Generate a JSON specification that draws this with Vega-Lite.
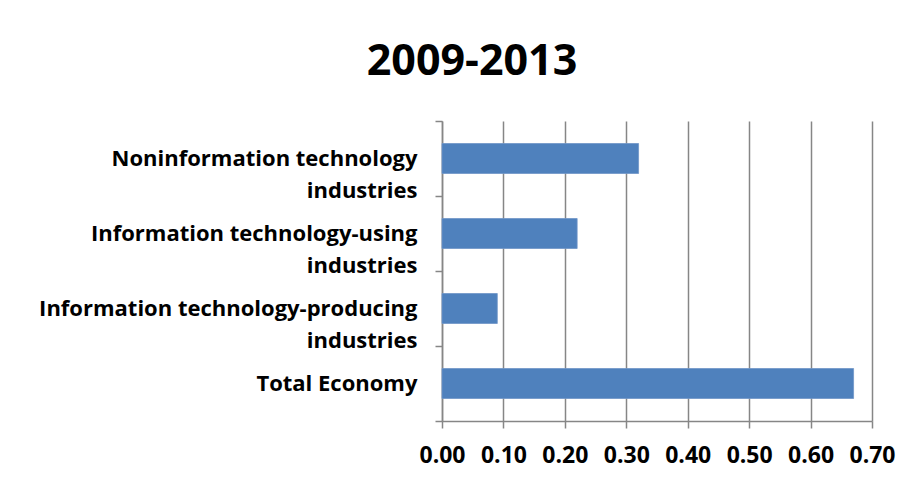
{
  "$schema": "https://vega.github.io/schema/vega-lite/v6.json",
  "width": 430,
  "height": 300,
  "autosize": {"type": "none"},
  "padding": {"left": 442, "top": 121, "right": 48, "bottom": 61},
  "background": "white",
  "title": {
    "text": "2009-2013",
    "font": "Open Sans",
    "fontSize": 43,
    "fontWeight": "bold",
    "color": "#000000",
    "anchor": "middle",
    "frame": "group",
    "dx": -185,
    "dy": 48,
    "offset": 40,
    "baseline": "alphabetic"
  },
  "data": {
    "values": [
      {"industry": "Noninformation technology|industries", "value": 0.32},
      {"industry": "Information technology-using|industries", "value": 0.22},
      {"industry": "Information technology-producing|industries", "value": 0.09},
      {"industry": "Total Economy", "value": 0.67}
    ]
  },
  "mark": {"type": "bar", "color": "#4F81BD", "stroke": "#7096c8", "strokeWidth": 0.8, "height": {"band": 0.4}},
  "encoding": {
    "y": {
      "field": "industry",
      "type": "nominal",
      "sort": null,
      "scale": {"paddingInner": 0, "paddingOuter": 0},
      "axis": {
        "title": null,
        "labelExpr": "split(datum.label, '|')",
        "labelFont": "Open Sans",
        "labelFontSize": 22,
        "labelFontWeight": "bold",
        "labelColor": "#000000",
        "labelLineHeight": 32,
        "labelBaseline": "middle",
        "labelPadding": 18,
        "labelLimit": 430,
        "tickBand": "extent",
        "tickSize": 7,
        "tickColor": "#868686",
        "tickWidth": 1.5,
        "domainColor": "#868686",
        "domainWidth": 1.5,
        "grid": false
      }
    },
    "x": {
      "field": "value",
      "type": "quantitative",
      "scale": {"domain": [0, 0.7], "nice": false},
      "axis": {
        "title": null,
        "values": [0, 0.1, 0.2, 0.3, 0.4, 0.5, 0.6, 0.7],
        "format": ".2f",
        "labelFont": "Open Sans",
        "labelFontSize": 23,
        "labelFontWeight": "bold",
        "labelColor": "#000000",
        "labelPadding": 16,
        "labelFlush": false,
        "tickSize": 7,
        "tickColor": "#868686",
        "tickWidth": 1.5,
        "domainColor": "#868686",
        "domainWidth": 1.5,
        "grid": true,
        "gridColor": "#868686",
        "gridWidth": 1.5
      }
    }
  },
  "config": {"view": {"stroke": null}}
}
